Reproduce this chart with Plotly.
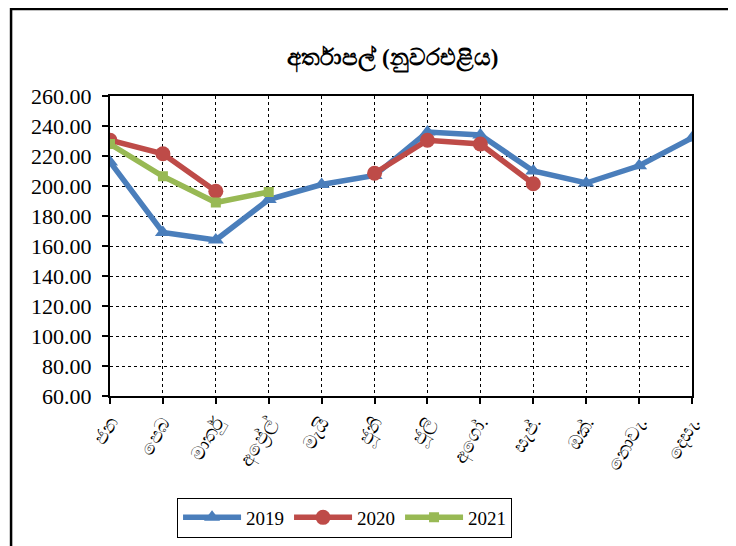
import plotly.graph_objects as go

months = ["ජන", "පෙබ", "මාර්තු", "අප්‍රේල්", "මැයි", "ජූනි",
          "ජූලි", "අගෝ.", "සැප්.", "ඔක්.", "නොවැ.", "දෙසැ."]

price_2019 = [216, 169, 164, 191, 201, 207, 236, 234, 210, 202, 213.5, 232]
price_2020 = [230.5, 221.5, 196.5, None, None, 208.5, 230.5, 228, 201.5, None, None, None]
price_2021 = [228, 206.5, 189, 196, None, None, None, None, None, None, None, None]

serif = "Liberation Serif, Times New Roman, serif"

fig = go.Figure()

fig.add_trace(go.Scatter(
    x=months, y=price_2019, mode="lines+markers", name="2019",
    line=dict(color="#4a7ebb", width=5.5),
    marker=dict(symbol="triangle-up", size=14, color="#4a7ebb"),
))
fig.add_trace(go.Scatter(
    x=months, y=price_2020, mode="lines+markers", name="2020",
    line=dict(color="#be4b48", width=5.5),
    marker=dict(symbol="circle", size=15, color="#be4b48"),
))
fig.add_trace(go.Scatter(
    x=months, y=price_2021, mode="lines+markers", name="2021",
    line=dict(color="#98b954", width=5.5),
    marker=dict(symbol="square", size=10, color="#98b954"),
))

# outer chart frame
fig.add_shape(type="rect", xref="paper", yref="paper",
              x0=-0.170, x1=1.068, y0=-0.60, y1=1.29,
              line=dict(color="black", width=2.5), layer="below")

# page has an 8px body margin, so margins are shifted to compensate
fig.update_layout(
    width=736, height=546,
    margin=dict(l=102, r=52, t=88, b=158),
    paper_bgcolor="white", plot_bgcolor="white",
    title=dict(text="<b>අර්තාපල් (නුවරඑළිය)</b>",
               x=0.486, xref="paper", xanchor="center",
               y=0.91, yanchor="middle",
               font=dict(family=serif, size=23, color="black")),
    showlegend=True,
    legend=dict(orientation="h", x=0.403, xanchor="center",
                y=-0.405, yanchor="middle",
                bordercolor="black", borderwidth=1,
                font=dict(family=serif, size=19, color="black"),
                itemwidth=58),
    font=dict(family=serif, color="black"),
)

fig.update_xaxes(
    type="category", range=[0, 11],
    showgrid=True, gridcolor="black", griddash="dot", gridwidth=1,
    showline=True, linecolor="black", linewidth=2, mirror=True,
    ticks="outside", ticklen=6, tickcolor="black", tickwidth=2,
    tickangle=-60, tickfont=dict(size=19, family=serif),
)
fig.update_yaxes(
    range=[60, 260], dtick=20, tickformat=".2f",
    showgrid=True, gridcolor="black", griddash="dot", gridwidth=1,
    showline=True, linecolor="black", linewidth=2, mirror=True,
    ticks="outside", ticklen=6, tickcolor="black", tickwidth=2,
    ticklabelstandoff=6,
    tickfont=dict(size=22, family=serif),
    zeroline=False,
)

fig.write_html("out.html")
